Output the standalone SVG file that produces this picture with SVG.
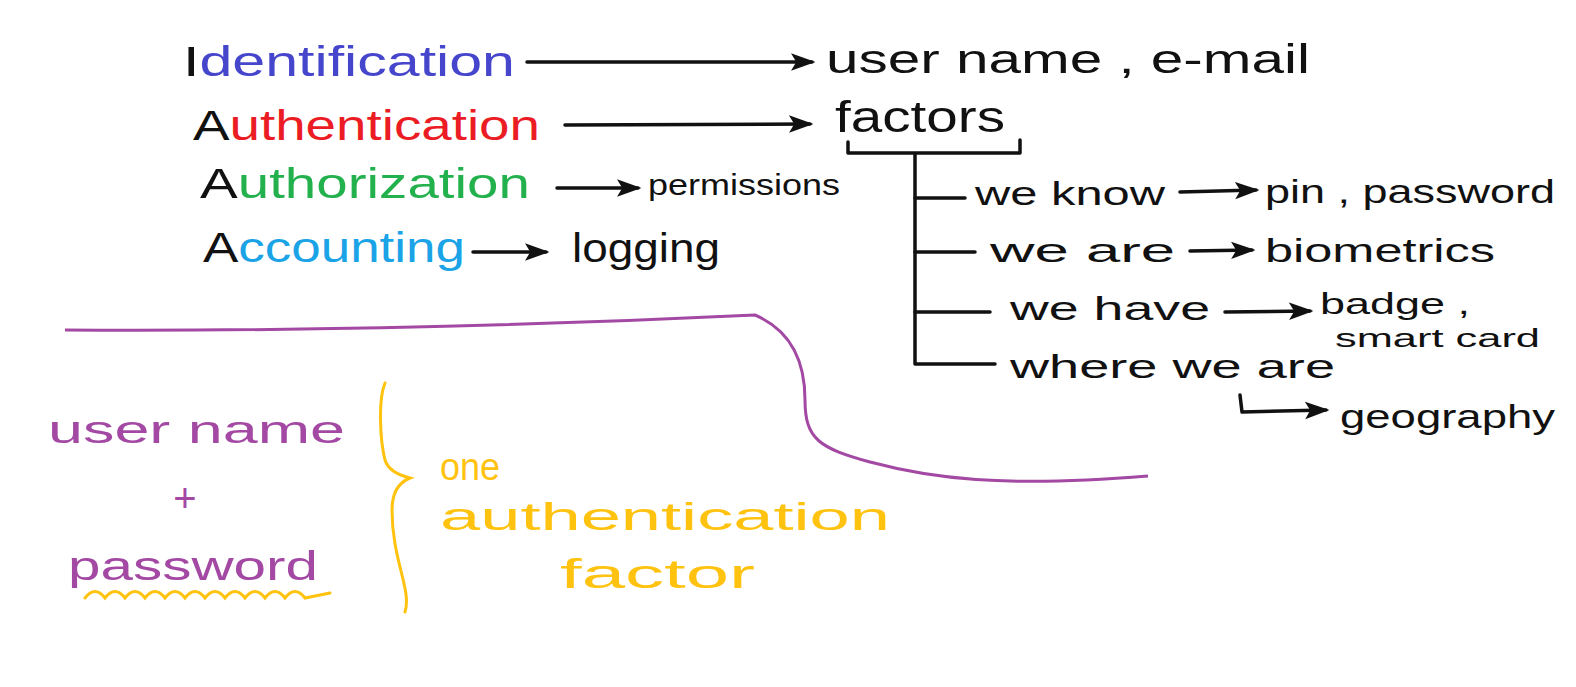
<svg xmlns="http://www.w3.org/2000/svg" width="1576" height="687" viewBox="0 0 1576 687">
<defs>
<style>
text{font-family:"Liberation Sans","DejaVu Sans",sans-serif;}
.k{fill:#111}
.blue{fill:#4646cc}
.red{fill:#ec1c24}
.green{fill:#22b14c}
.cyan{fill:#1aa3e6}
.pur{fill:#a349a4}
.yel{fill:#ffc20e}
.ln{fill:none;stroke:#111;stroke-width:3.5;stroke-linecap:round;stroke-linejoin:round}
.ar{marker-end:url(#ah)}
</style>
<marker id="ah" markerWidth="8" markerHeight="6" refX="6" refY="3" orient="auto" markerUnits="strokeWidth">
<path d="M0,0.5 L7,3 L0,5.5 L1.5,3 Z" fill="#111"/>
</marker>
</defs>
<rect width="1576" height="687" fill="#fff"/>

<g id="identification"><text x="183" y="76" font-size="42" textLength="332" lengthAdjust="spacingAndGlyphs"><tspan class="k">I</tspan><tspan class="blue">dentification</tspan></text></g>
<g id="authentication"><text x="193" y="140" font-size="42" textLength="347" lengthAdjust="spacingAndGlyphs"><tspan class="k">A</tspan><tspan class="red">uthentication</tspan></text></g>
<g id="authorization"><text x="200" y="198" font-size="42" textLength="330" lengthAdjust="spacingAndGlyphs"><tspan class="k">A</tspan><tspan class="green">uthorization</tspan></text></g>
<g id="accounting"><text x="203" y="262" font-size="42" textLength="262" lengthAdjust="spacingAndGlyphs"><tspan class="k">A</tspan><tspan class="cyan">ccounting</tspan></text></g>

<g id="username-email"><text class="k" x="826" y="73" font-size="40" textLength="484" lengthAdjust="spacingAndGlyphs">user name , e-mail</text></g>
<g id="factors"><text class="k" x="835" y="132" font-size="44" textLength="170" lengthAdjust="spacingAndGlyphs">factors</text></g>
<g id="permissions"><text class="k" x="648" y="195" font-size="30" textLength="192" lengthAdjust="spacingAndGlyphs">permissions</text></g>
<g id="logging"><text class="k" x="572" y="262" font-size="40" textLength="148" lengthAdjust="spacingAndGlyphs">logging</text></g>

<g id="we-know"><text class="k" x="975" y="205" font-size="34" textLength="190" lengthAdjust="spacingAndGlyphs">we know</text></g>
<g id="pin-password"><text class="k" x="1265" y="203" font-size="34" textLength="290" lengthAdjust="spacingAndGlyphs">pin , password</text></g>
<g id="we-are"><text class="k" x="990" y="262" font-size="34" textLength="185" lengthAdjust="spacingAndGlyphs">we are</text></g>
<g id="biometrics"><text class="k" x="1265" y="262" font-size="34" textLength="230" lengthAdjust="spacingAndGlyphs">biometrics</text></g>
<g id="we-have"><text class="k" x="1010" y="320" font-size="34" textLength="200" lengthAdjust="spacingAndGlyphs">we have</text></g>
<g id="badge-smartcard"><text class="k" x="1320" y="314" font-size="30" textLength="150" lengthAdjust="spacingAndGlyphs">badge ,</text><text class="k" x="1335" y="347" font-size="26" textLength="205" lengthAdjust="spacingAndGlyphs">smart card</text></g>
<g id="where-we-are"><text class="k" x="1010" y="378" font-size="34" textLength="325" lengthAdjust="spacingAndGlyphs">where we are</text></g>
<g id="geography"><text class="k" x="1340" y="428" font-size="34" textLength="215" lengthAdjust="spacingAndGlyphs">geography</text></g>

<g id="username-password">
<text class="pur" x="48" y="443" font-size="38" textLength="297" lengthAdjust="spacingAndGlyphs">user name</text>
<text class="pur" x="185" y="512" font-size="40" text-anchor="middle">+</text>
<text class="pur" x="68" y="580" font-size="40" textLength="250" lengthAdjust="spacingAndGlyphs">password</text>
<path d="M85,598 q10,-13 20,0 q10,-13 20,0 q10,-13 20,0 q10,-13 20,0 q10,-13 20,0 q10,-13 20,0 q10,-13 20,0 q10,-13 20,0 q10,-13 20,0 q10,-13 20,0 q10,-13 20,0 L330,593" fill="none" stroke="#ffc20e" stroke-width="3" stroke-linecap="round"/>
</g>
<g id="one-factor">
<path d="M385,383 C378,400 380,440 385,460 C388,470 398,475 410,478 C400,482 392,490 392,510 C392,560 412,590 405,612" fill="none" stroke="#ffc20e" stroke-width="3" stroke-linecap="round"/>
<text class="yel" x="440" y="480" font-size="38" textLength="60" lengthAdjust="spacingAndGlyphs">one</text>
<text class="yel" x="440" y="530" font-size="38" textLength="450" lengthAdjust="spacingAndGlyphs">authentication</text>
<text class="yel" x="560" y="588" font-size="40" textLength="195" lengthAdjust="spacingAndGlyphs">factor</text>
</g>

<g id="divider">
<path d="M65,330 Q400,332 755,315 C790,330 805,360 805,400 C805,440 820,448 870,462 C930,478 1000,488 1148,476" fill="none" stroke="#a349a4" stroke-width="3"/>
</g>

<g id="connectors">
<path class="ln ar" d="M527,62 L812,62"/>
<path class="ln ar" d="M565,125 L810,124"/>
<path class="ln ar" d="M557,188 L638,188"/>
<path class="ln ar" d="M473,252 L546,252"/>
<path class="ln" d="M848,142 L848,153 L1020,153 L1020,140"/>
<path class="ln" d="M915,155 L915,364 L995,364"/>
<path class="ln" d="M915,198 L965,198"/>
<path class="ln" d="M915,252 L975,252"/>
<path class="ln" d="M915,312 L990,312"/>
<path class="ln ar" d="M1180,192 L1256,190"/>
<path class="ln ar" d="M1190,251 L1252,250"/>
<path class="ln ar" d="M1225,312 L1310,311"/>
<path class="ln ar" d="M1240,395 L1242,412 L1326,410"/>
</g>
</svg>
